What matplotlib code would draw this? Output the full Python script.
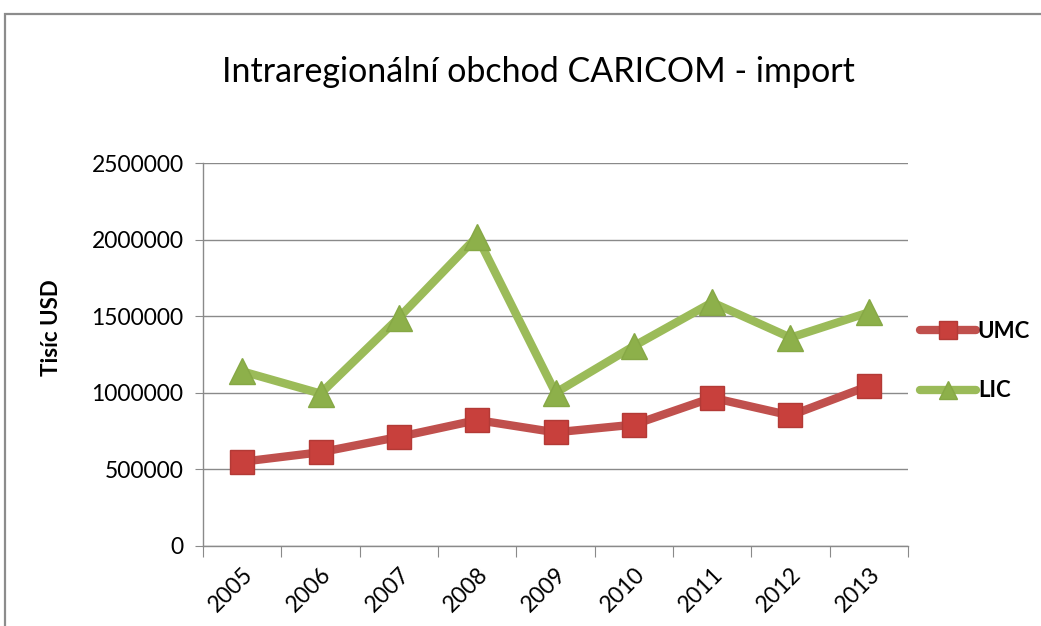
import matplotlib
matplotlib.use("Agg")
import matplotlib.pyplot as plt
from matplotlib.patches import Rectangle
from matplotlib.lines import Line2D

years = ["2005", "2006", "2007", "2008", "2009", "2010", "2011", "2012", "2013"]
umc = [550000, 612000, 712000, 822000, 742000, 792000, 968000, 852000, 1045000]
lic = [1140000, 995000, 1490000, 2020000, 1000000, 1305000, 1590000, 1360000, 1525000]
y_ticks = [0, 500000, 1000000, 1500000, 2000000, 2500000]

plt.rcParams['font.family'] = ['Lato', 'DejaVu Sans']

W, H = 1041, 626
fig = plt.figure(figsize=(W / 100, H / 100), dpi=100)
fig.patch.set_facecolor("white")

# chart frame
fig.patches.append(Rectangle((5 / W, -0.1), 1.2, 1.1 - 14 / H, transform=fig.transFigure,
                             fill=False, edgecolor="#8c8c8c", linewidth=1.6))

ax = fig.add_axes([203 / W, 1 - 546 / H, (908 - 203) / W, (546 - 163) / H])
x = list(range(len(years)))
red = "#C0504D"
green = "#9BBB59"
ax.plot(x, umc, color=red, linewidth=6, marker="s", markersize=17,
        markerfacecolor="#C8403C", markeredgecolor="#B33A36", markeredgewidth=1, zorder=3,
        solid_capstyle="round")
ax.plot(x, lic, color=green, linewidth=6, marker="^", markersize=19,
        markerfacecolor="#8DB04A", markeredgecolor="#86A845", markeredgewidth=1, zorder=3,
        solid_capstyle="round")

ax.set_xlim(-0.5, len(years) - 0.5)
ax.set_ylim(0, 2500000)
ax.set_yticks(y_ticks)
ax.set_yticklabels([str(v) for v in y_ticks], fontsize=16.5)
ax.yaxis.grid(True, color="#8a8a8a", linewidth=1)
ax.set_axisbelow(True)
ax.set_xticks([i - 0.5 for i in range(len(years) + 1)])
ax.set_xticklabels([])
ax.set_xticks(x, minor=True)
ax.set_xticklabels(years, minor=True, rotation=45, ha="right", va="top", fontsize=16.5,
                   rotation_mode="anchor")
ax.tick_params(axis="x", which="minor", length=0, pad=13)
ax.tick_params(axis="x", which="major", length=8, color="#8a8a8a", direction="out")
ax.tick_params(axis="y", length=6, color="#8a8a8a", direction="out", pad=8)
for s in ["top", "right"]:
    ax.spines[s].set_visible(False)
for s in ["left", "bottom"]:
    ax.spines[s].set_color("#8a8a8a")
    ax.spines[s].set_linewidth(1)

fig.text(52 / W, 1 - 328 / H, "Tisíc USD", fontsize=16, fontweight="bold",
         rotation=90, ha="center", va="center")

fig.text(538 / W, 1 - 72 / H, "Intraregionální obchod CARICOM - import", fontsize=24.5,
         ha="center", va="center")

handles = [Line2D([], [], color=red, linewidth=6, marker="s", markersize=13,
                  markerfacecolor="#C8403C", markeredgecolor="#B33A36", solid_capstyle="round"),
           Line2D([], [], color=green, linewidth=6, marker="^", markersize=13,
                  markerfacecolor="#8DB04A", markeredgecolor="#86A845", solid_capstyle="round")]
fig.legend(handles, ["UMC", "LIC"], loc="center left", bbox_to_anchor=(920 / W, 1 - 361 / H),
           frameon=False, prop={"size": 16, "weight": "bold"}, handlelength=2.5,
           handletextpad=0.1, labelspacing=1.75, borderaxespad=0, borderpad=0)

fig.savefig("out.png", dpi=100, facecolor="white")
